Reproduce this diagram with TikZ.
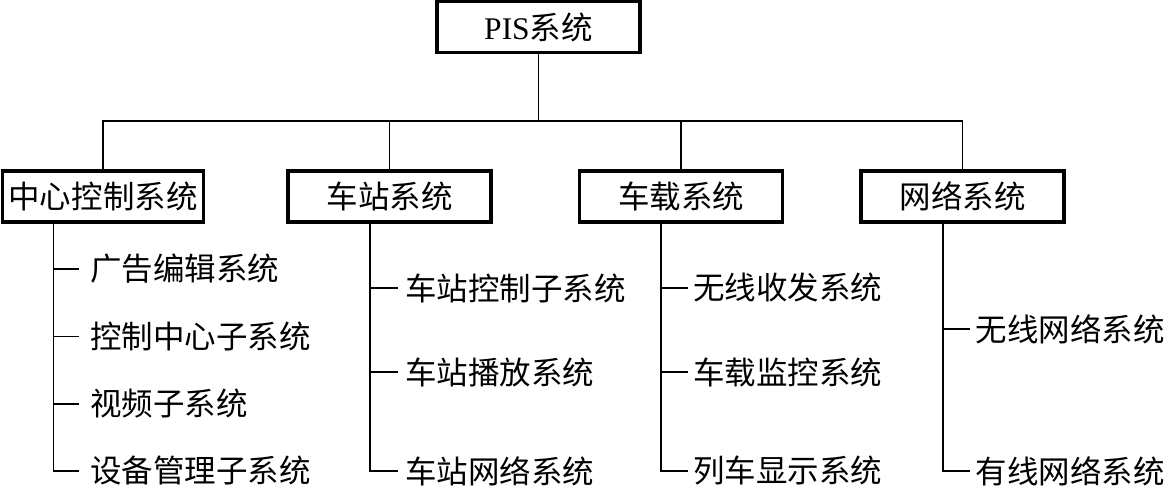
\documentclass[tikz,border=0pt]{standalone}
\usepackage{fontspec}
\setmainfont{Liberation Serif}
\newfontfamily\cjk{Noto Sans CJK SC}
\begin{document}
\begin{tikzpicture}[x=1pt,y=-1pt,
  txt/.style={font=\fontsize{31.5}{31.5}\selectfont\cjk},
  box/.style={txt, draw, line width=3.2pt, minimum width=203pt, minimum height=51pt, inner sep=0pt},
  item/.style={txt, anchor=west, inner ysep=0pt},
  conn/.style={line width=1.7pt}]
\useasboundingbox (0,0) rectangle (1166,496);

% top node
\node[box, font=\fontsize{31.5}{31.5}\selectfont] (pis) at (538.5,27) {PIS{\cjk 系统}};

% level-2 boxes
\node[box, minimum width=201pt] (c1) at (103,196.5) {中心控制系统};
\node[box] (c2) at (389.5,196.5) {车站系统};
\node[box] (c3) at (681,196.5) {车载系统};
\node[box] (c4) at (962.5,196.5) {网络系统};

% bus
\coordinate (bus) at (538.5,121);
\draw[conn] (pis.south) -- (bus);
\draw[conn] (c1.north) |- (c4.north |- bus) -- (c4.north);
\draw[conn] (c2.north) -- (c2.north |- bus);
\draw[conn] (c3.north) -- (c3.north |- bus);

% column 1
\coordinate (v1) at (53.6,222);
\node[item, inner xsep=11.5pt] (a1) at (78.5,269) {广告编辑系统};
\node[item, inner xsep=11.5pt] (a2) at (78.5,336.5) {控制中心子系统};
\node[item, inner xsep=11.5pt] (a3) at (78.5,404) {视频子系统};
\node[item, inner xsep=11.5pt] (a4) at (78.5,471) {设备管理子系统};
\draw[conn] (v1) |- (a4.west);
\foreach \n in {a1,a2,a3} \draw[conn] (\n.west -| v1) -- (\n.west);

% column 2
\coordinate (v2) at (370,222);
\node[item, inner xsep=7pt] (b1) at (398,288) {车站控制子系统};
\node[item, inner xsep=7pt] (b2) at (398,372) {车站播放系统};
\node[item, inner xsep=7pt] (b3) at (398,471) {车站网络系统};
\draw[conn] (v2) |- (b3.west);
\foreach \n in {b1,b2} \draw[conn] (\n.west -| v2) -- (\n.west);

% column 3
\coordinate (v3) at (661,222);
\node[item, inner xsep=5pt] (d1) at (688,288) {无线收发系统};
\node[item, inner xsep=5pt] (d2) at (688,372) {车载监控系统};
\node[item, inner xsep=5pt] (d3) at (688,471) {列车显示系统};
\draw[conn] (v3) |- (d3.west);
\foreach \n in {d1,d2} \draw[conn] (\n.west -| v3) -- (\n.west);

% column 4
\coordinate (v4) at (943,222);
\node[item, inner xsep=5.5pt] (e1) at (970,329) {无线网络系统};
\node[item, inner xsep=5.5pt] (e2) at (970,471) {有线网络系统};
\draw[conn] (v4) |- (e2.west);
\draw[conn] (e1.west -| v4) -- (e1.west);
\end{tikzpicture}
\end{document}
